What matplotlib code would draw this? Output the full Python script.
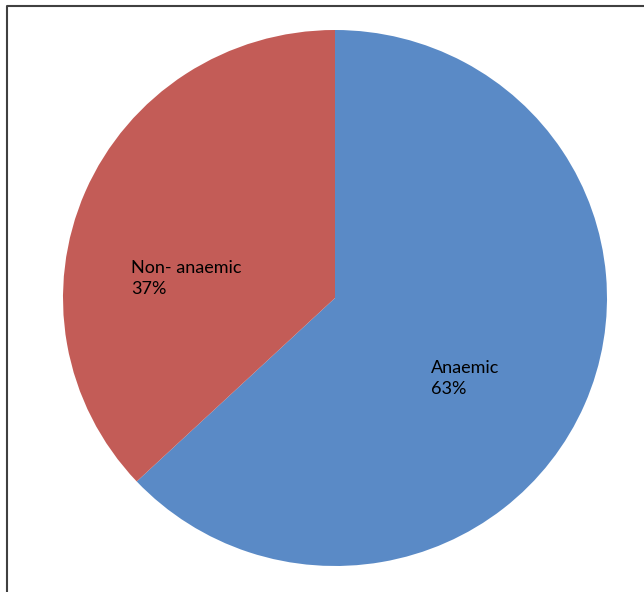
import matplotlib
matplotlib.use("Agg")
import matplotlib.pyplot as plt
from matplotlib.lines import Line2D

categories = ["Anaemic", "Non- anaemic"]
shares = [63, 37]
colors = ["#5A8AC6", "#C35C57"]

plt.rcParams['font.family'] = ['Lato', 'DejaVu Sans']

fig = plt.figure(figsize=(6.44, 5.92), dpi=100, facecolor='w')

# frame line on the left and top (page border)
fig.add_artist(Line2D([6.5 / 644, 6.5 / 644, 1.0], [0.0, 1 - 5.5 / 592, 1 - 5.5 / 592],
                      color='#404040', lw=1.5, transform=fig.transFigure))

ax = fig.add_axes([(335 - 272) / 644, (592 - 298 - 268) / 592, 544 / 644, 536 / 592])
wedges, _ = ax.pie(shares, colors=colors, startangle=90, counterclock=False,
                   wedgeprops=dict(edgecolor='none'))
ax.set_aspect('auto')
ax.set_xlim(-1.0, 1.0)
ax.set_ylim(-1.0, 1.0)

# labels inside the slices
ax.text(0.353, -0.232, "%s\n%d%%" % (categories[0], shares[0]),
        ha='left', va='top', fontsize=13, color='black', linespacing=1.4)
ax.text(-0.75, 0.141, "%s\n%d%%" % (categories[1], shares[1]),
        ha='left', va='top', fontsize=13, color='black', linespacing=1.4)

fig.savefig("out.png", dpi=100, facecolor='w')
